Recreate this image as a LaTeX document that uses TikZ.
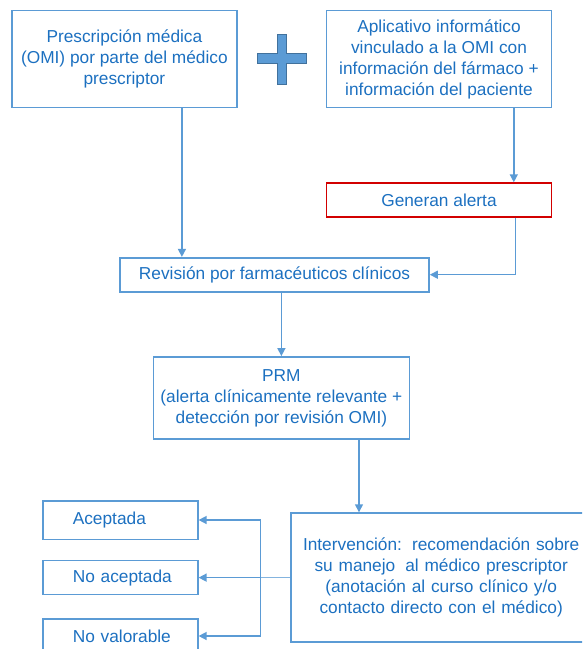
\documentclass[tikz,border=0pt]{standalone}
\usepackage{fontspec}
\setmainfont{Liberation Sans}
\usetikzlibrary{arrows.meta,positioning}
\definecolor{boxblue}{RGB}{91,155,213}
\definecolor{txtblue}{RGB}{28,112,192}
\definecolor{plusedge}{RGB}{65,113,156}
\definecolor{alertred}{RGB}{210,0,0}

\begin{document}
\begin{tikzpicture}[x=1pt,y=-1pt,>={Triangle[length=8pt,width=8pt]},
    main node/.style={rectangle,draw=boxblue,line width=1.6pt,text=txtblue,align=center,font=\fontsize{17.3}{21}\selectfont},
    alert node/.style={main node,draw=alertred,line width=1.3pt},
    resp node/.style={main node,minimum width=155pt,text width=155pt,inner xsep=0pt,align=left,execute at begin node={\hspace*{30pt}}}]

            \useasboundingbox (0,0) rectangle (582,649);
            \clip (0,0) rectangle (582,649);

            \node[main node, minimum width=225pt, minimum height=97pt] (0) at (124.4,59) {Prescripción médica\\(OMI) por parte del médico\\prescriptor};
            \node[main node, minimum width=225pt, minimum height=97pt] (1) [right=88pt of 0] {Aplicativo informático\\vinculado a la OMI con\\información del fármaco +\\información del paciente};
            \node[alert node, minimum width=225pt, minimum height=34pt] (2) [below=74pt of 1] {Generan alerta};
            \node[main node, minimum width=309pt, minimum height=34pt] (3) at (274.5,274.7) {Revisión por farmacéuticos clínicos};
            \node[main node, minimum width=256pt, minimum height=82pt] (4) at (281.4,397.9) {PRM\\(alerta clínicamente relevante +\\detección por revisión OMI)};
            % caja cortada por el borde derecho
            \node[main node, anchor=west, text width=330pt, inner xsep=0pt, align=left, minimum height=129pt] (5) at (290.2,577.6) {\hspace*{12pt}\begin{tabular}{@{}c@{}}Intervención:\hspace{10pt}recomendación sobre\\su manejo\hspace{10pt}al médico prescriptor\\(anotación al curso clínico y/o\\contacto directo con el médico)\end{tabular}};
            \node[resp node, minimum height=38.6pt] (6) at (120.3,520) {Aceptada};
            \node[resp node, minimum height=34pt] (7) at (120.3,577.6) {No aceptada};
            \node[resp node, minimum height=34pt] (8) at (120.3,636) {No valorable};
            \coordinate (c) at (260.7,577.6);

            % signo mas
            \draw[fill=boxblue, draw=plusedge, line width=1pt] (277.3,34) -- (286.7,34) -- (286.7,53.3) -- (306.7,53.3) -- (306.7,63.3) -- (286.7,63.3) -- (286.7,84) -- (277.3,84) -- (277.3,63.3) -- (257.3,63.3) -- (257.3,53.3) -- (277.3,53.3) -- cycle;

            \path[->, color=boxblue, line width=1.4pt]
                ([xshift=57.5pt]0.south) edge ([xshift=57.5pt]0.south |- 3.north)
                ([xshift=74.8pt]1.south) edge ([xshift=74.8pt]1.south |- 2.north)
                ([xshift=76.7pt]2.south) edge [to path={|- (\tikztotarget)}] (3.east)
                (3.south -| 4.north) edge (4.north)
                (5.north -| 359,0) edge [<-] (4.south -| 359,0)
                (c) edge [to path={|- (\tikztotarget)}] (6.east)
                (c) edge (7.east)
                (c) edge [to path={|- (\tikztotarget)}] (8.east)
                ;
            \draw[boxblue!75, line width=1.2pt] (5.west) -- (c);
        \end{tikzpicture}
\end{document}
